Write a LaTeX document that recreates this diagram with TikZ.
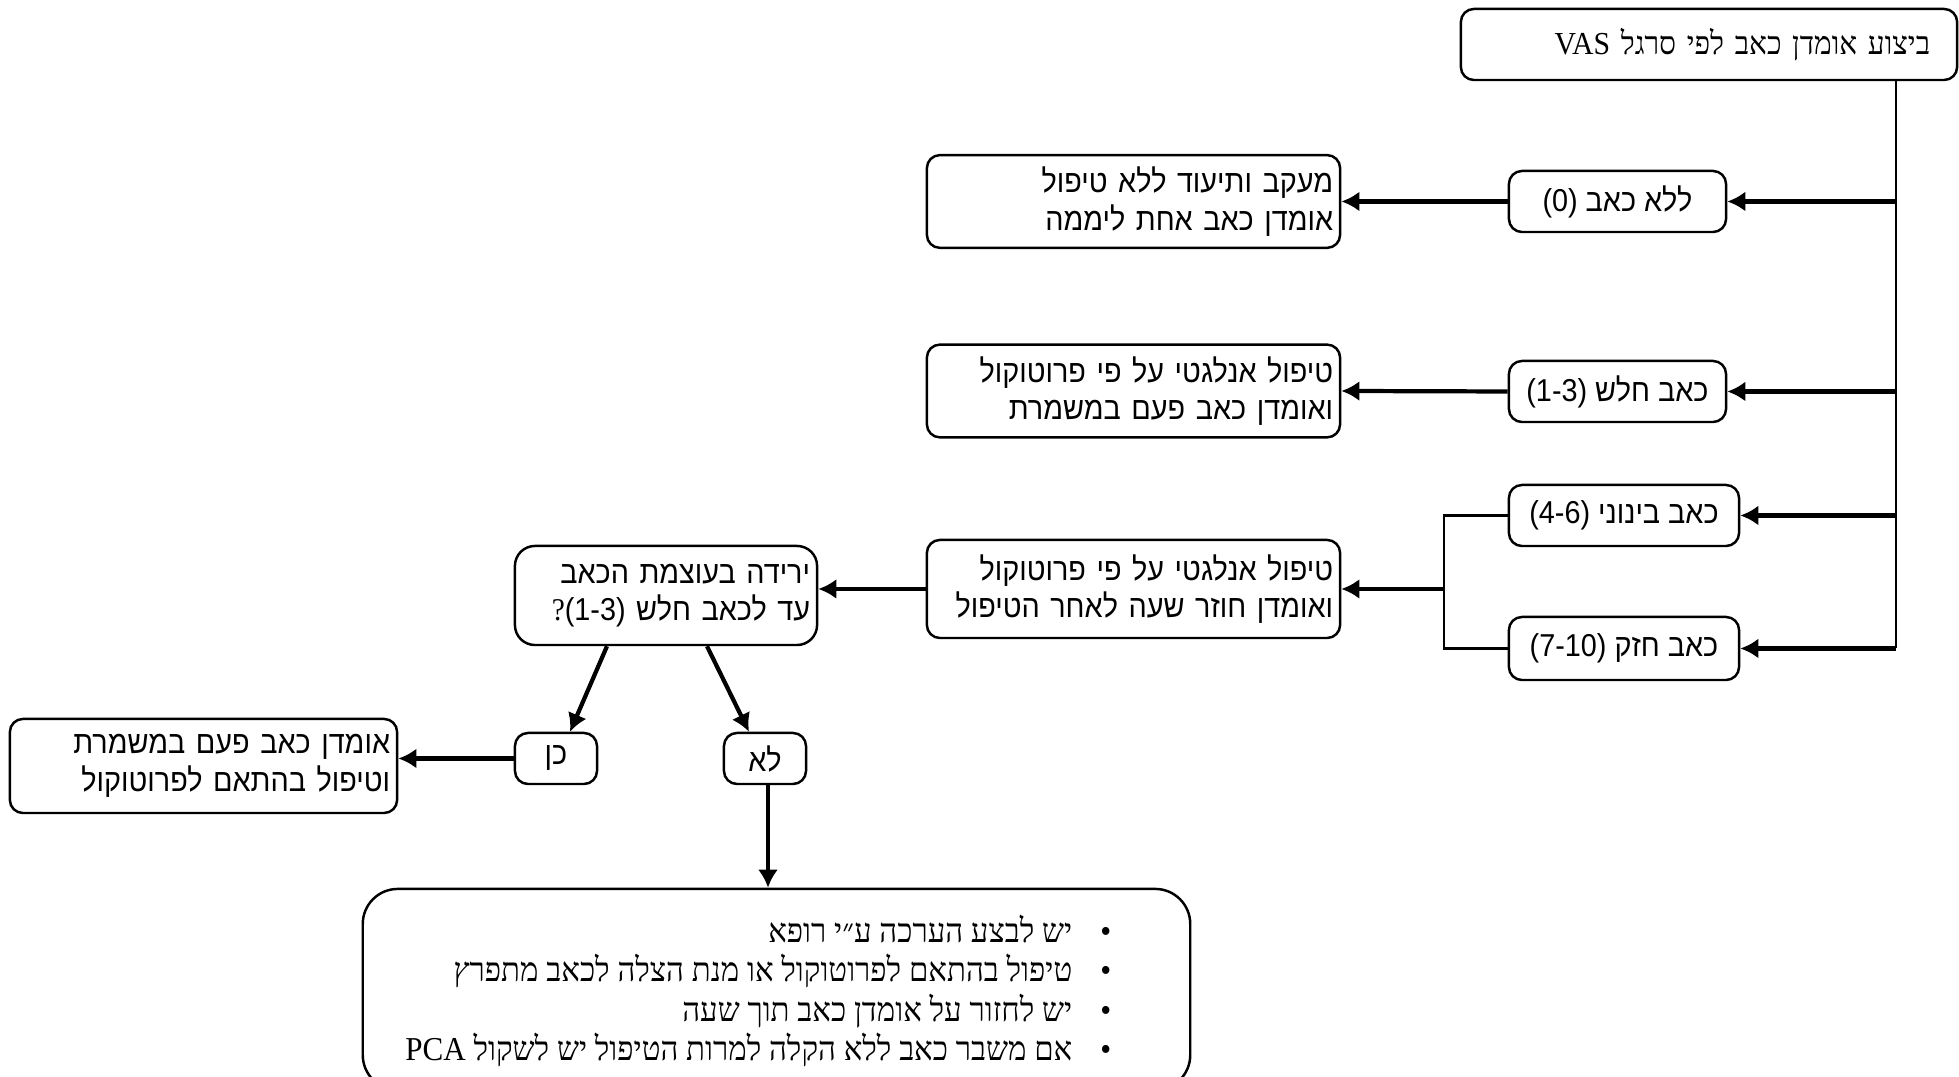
\documentclass[tikz,border=0pt]{standalone}
\usepackage{fontspec}
\setmainfont{Liberation Serif}
\newfontfamily\hebsans[Script=Hebrew, FakeStretch=0.91]{Liberation Sans}
\newfontfamily\hebserif[Script=Hebrew, FakeStretch=0.93]{Liberation Serif}
\TeXXeTstate=1
\usetikzlibrary{arrows.meta,positioning,calc}
\newcommand{\heb}[1]{\beginR #1\endR}
\newcommand{\lat}[1]{\beginL #1\endL}

\begin{document}
\begin{tikzpicture}[x=0.01cm, y=-0.01cm,
		box/.style={draw, rounded corners=1.3mm, line width=0.7pt},
		score/.style={box, minimum width=#1, minimum height=0.61cm, inner sep=0pt, font=\hebsans\fontsize{9}{10.7}\selectfont},
		plan/.style={box, text width=#1, align=right, inner xsep=0.07cm, font=\hebsans\fontsize{9}{10.7}\selectfont},
		arr/.style={-{Latex[length=1.8mm,width=2mm]}, line width=1.2pt},
		link/.style={line width=0.7pt}]
				\useasboundingbox (0,0) rectangle (1959,1077);
				\clip (0,0) rectangle (1959,1077);
				
				% Draw VAS box and trunk
				\node[box, text width=4.42cm, inner xsep=0.27cm, minimum height=0.71cm, align=right, font=\hebserif\fontsize{9.1}{10.8}\selectfont] (vas) at (1709,44.5) {\heb{ביצוע אומדן כאב לפי סרגל \lat{VAS}}};
				\coordinate (trunk) at (1896,80);
				
				% Draw pain score boxes
				\node[score=2.17cm] (none) at (1617.5,201.5) {\heb{ללא כאב \lat{(0)}}};
				\node[score=2.17cm] (mild) at (1617.5,391.5) {\heb{כאב חלש \lat{(1-3)}}};
				\node[score=2.30cm] (moderate) at (1624,515.5) {\heb{כאב בינוני \lat{(4-6)}}};
				\node[score=2.30cm, minimum height=0.63cm] (severe) at (1624,648.5) {\heb{כאב חזק \lat{(7-10)}}};
				
				% Draw treatment boxes
				\node[plan=3.99cm, minimum height=0.91cm] (plannone) at (1133.5,201.5) {\heb{מעקב ותיעוד ללא טיפול}\\\heb{אומדן כאב אחת ליממה}};
				\node[plan=3.99cm, minimum height=0.90cm] (planmild) at (1133.5,391) {\heb{טיפול אנלגטי על פי פרוטוקול}\\\heb{ואומדן כאב פעם במשמרת}};
				\node[plan=3.99cm, minimum height=0.98cm] (planmod) at (1133.5,589) {\heb{טיפול אנלגטי על פי פרוטוקול}\\\heb{ואומדן חוזר שעה לאחר הטיפול}};
				
				% Draw decision and answers
				\node[plan=2.88cm, minimum height=0.99cm, rounded corners=2mm] (decision) at (666,595.5) {\heb{ירידה בעוצמת הכאב}\\\heb{עד לכאב חלש \lat{{\hebserif ?}(1-3)}}};
				\node[score=0.82cm, minimum height=0.51cm] (yes) at (556,758.5) {\heb{כן}};
				\node[score=0.82cm, minimum height=0.51cm] (no) at (765,758.5) {\heb{לא}};
				\node[plan=3.73cm, minimum height=0.94cm] (shift) at (203.5,766) {\heb{אומדן כאב פעם במשמרת}\\\heb{וטיפול בהתאם לפרוטוקול}};
				
				% Draw advice box
				\node[box, rounded corners=3.5mm, minimum width=8.27cm, minimum height=2.01cm] (advice) at (776.5,989.5) {};
				\node[anchor=east, inner sep=0pt, align=right, font=\hebserif\fontsize{9.5}{11.2}\selectfont] (advicetext) at (1112,991) {\heb{•\hspace{8pt}יש לבצע הערכה ע״י רופא}\\\heb{•\hspace{8pt}טיפול בהתאם לפרוטוקול או מנת הצלה לכאב מתפרץ}\\\heb{•\hspace{8pt}יש לחזור על אומדן כאב תוך שעה}\\\heb{•\hspace{8pt}אם משבר כאב ללא הקלה למרות הטיפול יש לשקול \lat{PCA}}};
				
				% Draw connections
				\draw[link] (trunk) -- (trunk |- severe.east);
				\draw[arr] (trunk |- none.east) -- (none.east);
				\draw[arr] (trunk |- mild.east) -- (mild.east);
				\draw[arr] (trunk |- moderate.east) -- (moderate.east);
				\draw[arr] (trunk |- severe.east) -- (severe.east);
				\draw[arr] (none.west) -- (plannone.east);
				\draw[arr] (mild.west) -- (planmild.east);
				\coordinate (junc) at (1444,589);
				\draw[line width=0.6pt] (moderate.west) -| (junc) |- (severe.west);
				\draw[arr] (junc) -- (planmod.east);
				\draw[arr] (planmod.west) -- (planmod.west -| decision.east);
				\draw[arr] ([xshift=-0.59cm]decision.south) -- ([xshift=0.14cm]yes.north);
				\draw[arr] ([xshift=0.41cm]decision.south) -- ([xshift=-0.16cm]no.north);
				\draw[arr] (yes.west) -- (yes.west -| shift.east);
				\draw[arr] ([xshift=0.03cm]no.south) -- ([xshift=0.03cm]no.south |- advice.north);
			\end{tikzpicture}
\end{document}
